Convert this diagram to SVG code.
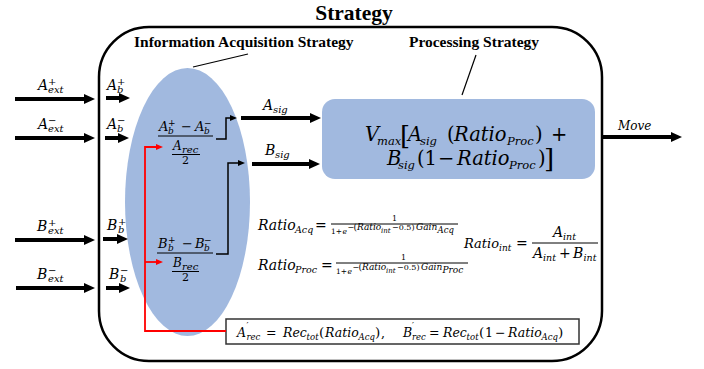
<svg xmlns="http://www.w3.org/2000/svg" width="704" height="369" viewBox="0 0 704 369">
  <defs>
    <style>
      .hd { font-family: "Liberation Serif", "Times New Roman", serif; font-weight: bold; fill: #000; }
      .m { font-family: "DejaVu Serif", serif; font-style: italic; fill: #000; }
      .u { font-family: "DejaVu Serif", serif; font-style: normal; }
      .blob { fill: #a1b9df; }
      .thick { fill: none; stroke: #000; stroke-width: 4; marker-end: url(#big); }
      .thin { fill: none; stroke: #000; stroke-width: 1.5; marker-end: url(#small); }
      .red { fill: none; stroke: #ff0000; stroke-width: 1.8; }
      .lead { fill: none; stroke: #000; stroke-width: 1.2; }
      .bar { stroke: #000; stroke-width: 1; }
    </style>
    <marker id="big" markerUnits="userSpaceOnUse" viewBox="0 0 11 10" markerWidth="11" markerHeight="10" refX="3" refY="5" orient="auto">
      <path d="M0,0 L11,5 L0,10 z" fill="#000"/>
    </marker>
    <marker id="small" markerUnits="userSpaceOnUse" viewBox="0 0 7 6" markerWidth="7" markerHeight="6" refX="2" refY="3" orient="auto">
      <path d="M0,0 L7,3 L0,6 z" fill="#000"/>
    </marker>
    <marker id="smallred" markerUnits="userSpaceOnUse" viewBox="0 0 7 6" markerWidth="7" markerHeight="6" refX="2" refY="3" orient="auto">
      <path d="M0,0 L7,3 L0,6 z" fill="#ff0000"/>
    </marker>
  </defs>

  <rect width="704" height="369" fill="#fff"/>

  <!-- outer strategy container -->
  <g id="strategy">
    <text class="hd" x="354" y="20" font-size="21.5" text-anchor="middle">Strategy</text>
    <rect x="99" y="27" width="503" height="334" rx="50" ry="50" fill="none" stroke="#000" stroke-width="2.5"/>
  </g>

  <!-- information acquisition region -->
  <g id="acquisition">
    <ellipse class="blob" cx="187.5" cy="202" rx="62.5" ry="134"/>
    <text class="hd" x="134" y="47" font-size="15.5">Information Acquisition Strategy</text>
    <line class="lead" x1="193" y1="67" x2="248" y2="54"/>
  </g>

  <!-- processing region -->
  <g id="processing">
    <rect class="blob" x="322" y="99" width="273" height="80" rx="13" ry="13"/>
    <text class="hd" x="474" y="47" font-size="15.5" text-anchor="middle">Processing Strategy</text>
    <line class="lead" x1="476" y1="55" x2="462" y2="95"/>
    <text class="m" font-size="19.5">
      <tspan x="365" y="141">V</tspan><tspan x="377" y="145" font-size="11.5">max</tspan><tspan class="u" x="400" y="145" font-size="26">[</tspan><tspan x="408" y="141">A</tspan><tspan x="420" y="145" font-size="11.5">sig</tspan><tspan class="u" x="447" y="141">(</tspan><tspan x="454" y="141">Ratio</tspan><tspan x="507" y="145" font-size="11.5">Proc</tspan><tspan class="u" x="535" y="141">)</tspan><tspan class="u" x="551" y="141">+</tspan>
    </text>
    <text class="m" font-size="19.5">
      <tspan x="387" y="165">B</tspan><tspan x="398" y="169" font-size="11.5">sig</tspan><tspan class="u" x="417" y="165">(1</tspan><tspan class="u" x="438" y="165">−</tspan><tspan x="457" y="165">Ratio</tspan><tspan x="509" y="169" font-size="11.5">Proc</tspan><tspan class="u" x="538" y="165">)</tspan><tspan class="u" x="544" y="168" font-size="26">]</tspan>
    </text>
  </g>

  <!-- external inputs -->
  <g id="a-ext-plus">
    <text class="m" font-size="14"><tspan x="38" y="90">A</tspan><tspan class="u" x="48" y="85" font-size="10">+</tspan><tspan x="48" y="93" font-size="10">ext</tspan></text>
  </g>
  <g id="a-ext-minus">
    <text class="m" font-size="14"><tspan x="38" y="129">A</tspan><tspan class="u" x="48" y="124" font-size="10">−</tspan><tspan x="48" y="132" font-size="10">ext</tspan></text>
  </g>
  <g id="b-ext-plus">
    <text class="m" font-size="14"><tspan x="37" y="231">B</tspan><tspan class="u" x="48" y="226" font-size="10">+</tspan><tspan x="48" y="234" font-size="10">ext</tspan></text>
  </g>
  <g id="b-ext-minus">
    <text class="m" font-size="14"><tspan x="37" y="279">B</tspan><tspan class="u" x="48" y="274" font-size="10">−</tspan><tspan x="48" y="282" font-size="10">ext</tspan></text>
  </g>

  <!-- belief inputs -->
  <g id="a-b-plus">
    <text class="m" font-size="14"><tspan x="107" y="90">A</tspan><tspan class="u" x="117" y="85" font-size="10">+</tspan><tspan x="117" y="93" font-size="10">b</tspan></text>
  </g>
  <g id="a-b-minus">
    <text class="m" font-size="14"><tspan x="107" y="129">A</tspan><tspan class="u" x="117" y="124" font-size="10">−</tspan><tspan x="117" y="132" font-size="10">b</tspan></text>
  </g>
  <g id="b-b-plus">
    <text class="m" font-size="14"><tspan x="107" y="230">B</tspan><tspan class="u" x="118" y="225" font-size="10">+</tspan><tspan x="118" y="233" font-size="10">b</tspan></text>
  </g>
  <g id="b-b-minus">
    <text class="m" font-size="14"><tspan x="109" y="279">B</tspan><tspan class="u" x="120" y="274" font-size="10">−</tspan><tspan x="120" y="282" font-size="10">b</tspan></text>
  </g>

  <!-- normalised difference for A -->
  <g id="frac-a">
    <text class="m" font-size="13">
      <tspan x="159" y="131">A</tspan><tspan class="u" x="168" y="126" font-size="9">+</tspan><tspan x="168" y="134" font-size="9">b</tspan><tspan class="u" x="181" y="131">−</tspan><tspan x="195" y="131">A</tspan><tspan class="u" x="204" y="126" font-size="9">−</tspan><tspan x="204" y="134" font-size="9">b</tspan>
    </text>
    <line class="bar" x1="158" y1="136" x2="213" y2="136"/>
    <text class="m" font-size="12"><tspan x="173" y="150">A</tspan><tspan x="182" y="152.5" font-size="10">rec</tspan></text>
    <line class="bar" x1="172" y1="154.5" x2="200" y2="154.5"/>
    <text class="u" x="182" y="164" font-size="11">2</text>
  </g>

  <!-- normalised difference for B -->
  <g id="frac-b">
    <text class="m" font-size="13">
      <tspan x="158" y="248">B</tspan><tspan class="u" x="168" y="243" font-size="9">+</tspan><tspan x="168" y="251" font-size="9">b</tspan><tspan class="u" x="182" y="248">−</tspan><tspan x="195" y="248">B</tspan><tspan class="u" x="204" y="243" font-size="9">−</tspan><tspan x="204" y="251" font-size="9">b</tspan>
    </text>
    <line class="bar" x1="157" y1="253" x2="213" y2="253"/>
    <text class="m" font-size="12"><tspan x="173" y="267">B</tspan><tspan x="182" y="269.5" font-size="10">rec</tspan></text>
    <line class="bar" x1="172" y1="271.5" x2="199" y2="271.5"/>
    <text class="u" x="182" y="281" font-size="11">2</text>
  </g>

  <!-- signal labels -->
  <g id="a-sig">
    <text class="m" font-size="14"><tspan x="263" y="110">A</tspan><tspan x="273" y="113" font-size="10">sig</tspan></text>
  </g>
  <g id="b-sig">
    <text class="m" font-size="14"><tspan x="265" y="155">B</tspan><tspan x="275" y="158" font-size="10">sig</tspan></text>
  </g>
  <g id="move">
    <text class="m" x="618" y="130" font-size="12">Move</text>
  </g>

  <!-- acquisition ratio -->
  <g id="ratio-acq">
    <text class="m" font-size="14"><tspan x="258" y="230">Ratio</tspan><tspan x="295" y="233" font-size="9.5">Acq</tspan><tspan class="u" x="315" y="230">=</tspan></text>
    <text class="u" x="392" y="221" font-size="8">1</text>
    <line class="bar" x1="331" y1="224" x2="458" y2="224" stroke-width="0.9"/>
    <text class="u" font-size="7.5"><tspan x="331" y="233.5">1+</tspan><tspan class="m" x="342.5" y="233.5">e</tspan></text>
    <text class="m" font-size="9">
      <tspan class="u" x="347.5" y="229.5" font-size="8">−</tspan><tspan class="u" x="353.5" y="229.5">(</tspan><tspan x="357" y="229.5">Ratio</tspan><tspan x="381" y="232.5" font-size="7">int</tspan><tspan class="u" x="392" y="229.5" font-size="8">−0.5)</tspan><tspan x="416" y="229.5">Gain</tspan><tspan x="437.5" y="232.5" font-size="8.5">Acq</tspan>
    </text>
  </g>

  <!-- processing ratio -->
  <g id="ratio-proc">
    <text class="m" font-size="14"><tspan x="258" y="270">Ratio</tspan><tspan x="295" y="273" font-size="9.5">Proc</tspan><tspan class="u" x="321" y="270">=</tspan></text>
    <text class="u" x="401" y="260" font-size="8">1</text>
    <line class="bar" x1="336" y1="263" x2="468" y2="263" stroke-width="0.9"/>
    <text class="u" font-size="7.5"><tspan x="336" y="273.5">1+</tspan><tspan class="m" x="347.5" y="273.5">e</tspan></text>
    <text class="m" font-size="9">
      <tspan class="u" x="352.5" y="269.5" font-size="8">−</tspan><tspan class="u" x="358.5" y="269.5">(</tspan><tspan x="362" y="269.5">Ratio</tspan><tspan x="386" y="272.5" font-size="7">int</tspan><tspan class="u" x="397" y="269.5" font-size="8">−0.5)</tspan><tspan x="421" y="269.5">Gain</tspan><tspan x="442.5" y="272.5" font-size="9">Proc</tspan>
    </text>
  </g>

  <!-- internal ratio -->
  <g id="ratio-int">
    <text class="m" font-size="13"><tspan x="464" y="248">Ratio</tspan><tspan x="499" y="251" font-size="9">int</tspan><tspan class="u" x="516" y="248" font-size="14">=</tspan></text>
    <text class="m" font-size="14"><tspan x="553" y="237">A</tspan><tspan x="563" y="240" font-size="9.5">int</tspan></text>
    <line class="bar" x1="532" y1="243" x2="598" y2="243"/>
    <text class="m" font-size="14"><tspan x="533" y="258">A</tspan><tspan x="543" y="261" font-size="9.5">int</tspan><tspan class="u" x="559" y="258">+</tspan><tspan x="573" y="258">B</tspan><tspan x="583.5" y="261" font-size="9.5">int</tspan></text>
  </g>

  <!-- recruitment allocation -->
  <g id="recruitment">
    <rect x="226" y="319" width="353" height="25" fill="#fff" stroke="#333" stroke-width="1.5"/>
    <text class="m" font-size="12.5">
      <tspan x="237" y="337">A</tspan><tspan class="u" x="246.5" y="329" font-size="9">′</tspan><tspan x="246.5" y="340" font-size="8.5">rec</tspan><tspan class="u" x="266" y="337">=</tspan><tspan x="283" y="337">Rec</tspan><tspan x="306.6" y="340" font-size="8.5">tot</tspan><tspan class="u" x="319" y="337" font-size="13.5">(</tspan><tspan x="325" y="337">Ratio</tspan><tspan x="358.5" y="340" font-size="8.5">Acq</tspan><tspan class="u" x="375" y="337" font-size="13.5">)</tspan><tspan class="u" x="381" y="337">,</tspan>
      <tspan x="403" y="337">B</tspan><tspan class="u" x="412" y="329" font-size="9">′</tspan><tspan x="412" y="340" font-size="8.5">rec</tspan><tspan class="u" x="429" y="337">=</tspan><tspan x="443" y="337">Rec</tspan><tspan x="466.6" y="340" font-size="8.5">tot</tspan><tspan class="u" x="479" y="337" font-size="13.5">(</tspan><tspan class="u" x="485" y="337">1</tspan><tspan class="u" x="495" y="337">−</tspan><tspan x="508" y="337">Ratio</tspan><tspan x="541.5" y="340" font-size="8.5">Acq</tspan><tspan class="u" x="558" y="337" font-size="13.5">)</tspan>
    </text>
  </g>

  <!-- connectors -->
  <g id="connectors">
    <path class="thick" d="M15,99 H87"/>
    <path class="thick" d="M15,138 H87"/>
    <path class="thick" d="M15,240 H87"/>
    <path class="thick" d="M16,288 H87"/>
    <path class="thick" d="M106,98 H122"/>
    <path class="thick" d="M105,138 H121"/>
    <path class="thick" d="M103,239 H120"/>
    <path class="thick" d="M106,288 H122"/>
    <path class="thick" d="M241,118 H313"/>
    <path class="thick" d="M252,164 H312"/>
    <path class="thick" d="M602,137 H674"/>
    <path class="thin" d="M216,139 H226 V118 H232"/>
    <path class="thin" d="M216,254 H228 V163 H240"/>
    <path class="red" d="M226,331 H145 V147 H158" marker-end="url(#smallred)"/>
    <path class="red" d="M145,262 H158" marker-end="url(#smallred)"/>
  </g>
</svg>
